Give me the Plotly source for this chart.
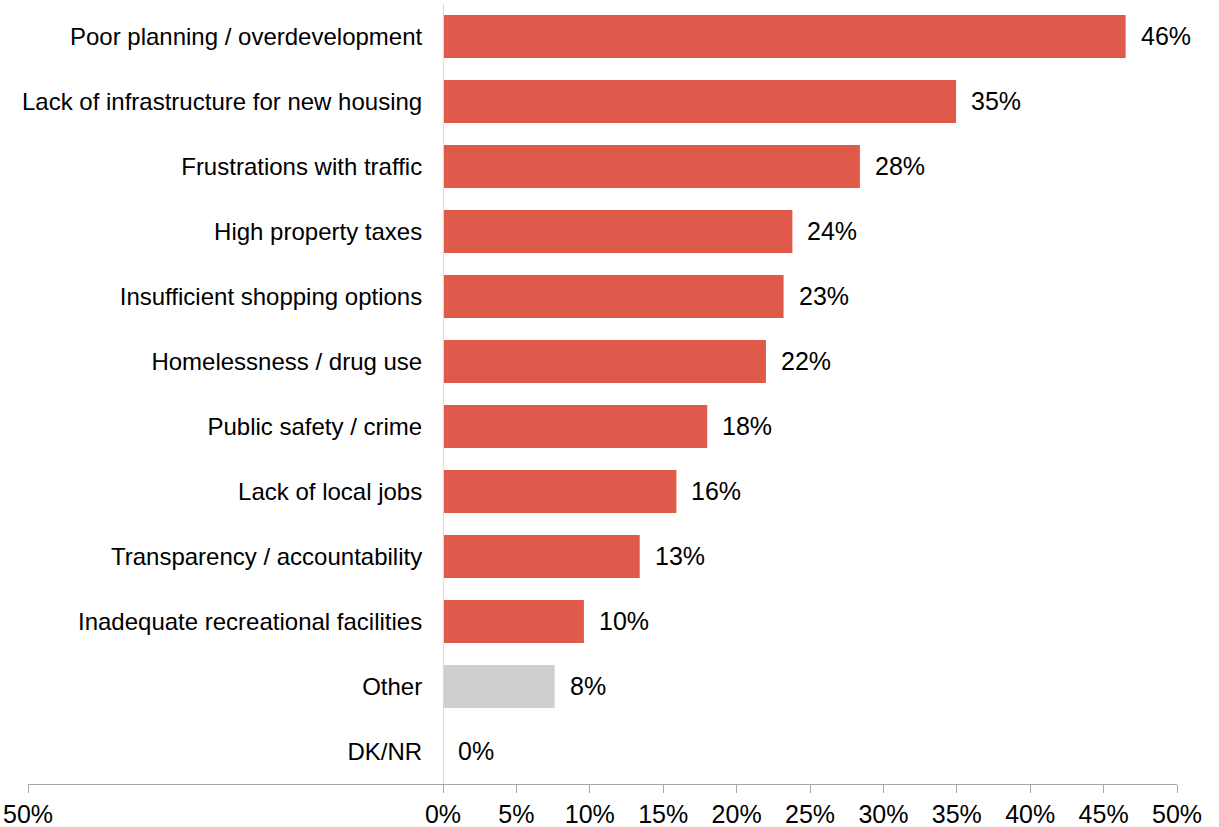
import plotly.graph_objects as go

categories = [
    "Poor planning / overdevelopment",
    "Lack of infrastructure for new housing",
    "Frustrations with traffic",
    "High property taxes",
    "Insufficient shopping options",
    "Homelessness / drug use",
    "Public safety / crime",
    "Lack of local jobs",
    "Transparency / accountability",
    "Inadequate recreational facilities",
    "Other",
    "DK/NR",
]
values = [46.5, 34.95, 28.4, 23.8, 23.2, 22.0, 18.0, 15.9, 13.4, 9.6, 7.6, 0.0]
value_labels = ["46%", "35%", "28%", "24%", "23%", "22%", "18%", "16%", "13%", "10%", "8%", "0%"]
bar_colors = ["#E05A4B"] * 10 + ["#D0CECE", "#D0CECE"]

x_min, x_max = -28.27, 50
tick_vals = [-28.27, 0, 5, 10, 15, 20, 25, 30, 35, 40, 45, 50]
tick_text = ["50%", "0%", "5%", "10%", "15%", "20%", "25%", "30%", "35%", "40%", "45%", "50%"]

FONT = "Arial, 'Liberation Sans', sans-serif"

fig = go.Figure()
fig.add_trace(go.Bar(
    x=values,
    y=categories,
    orientation="h",
    marker=dict(color=bar_colors, line=dict(width=0)),
    hoverinfo="skip",
))

for cat, v, lab in zip(categories, values, value_labels):
    fig.add_annotation(
        x=v, y=cat, text=lab, showarrow=False,
        xanchor="left", yanchor="middle", xshift=13, yshift=1,
        font=dict(family=FONT, size=25, color="#000000"),
    )

fig.update_layout(
    width=1219, height=827,
    margin=dict(l=28, r=42, t=4, b=43),
    paper_bgcolor="white", plot_bgcolor="white",
    showlegend=False,
    bargap=0.34,
    hovermode=False,
    font=dict(family=FONT, size=24, color="#000000"),
    xaxis=dict(
        range=[x_min, x_max],
        automargin=False,
        tickmode="array", tickvals=tick_vals, ticktext=tick_text,
        showgrid=False, zeroline=False,
        showline=True, linecolor="#A6A6A6", linewidth=1,
        ticks="outside", ticklen=8, tickcolor="#A6A6A6",
        tickfont=dict(family=FONT, size=25, color="#000000"),
    ),
    yaxis=dict(
        categoryorder="array", categoryarray=categories,
        autorange="reversed",
        automargin=False,
        anchor="free",
        position=(0 - x_min) / (x_max - x_min),
        showgrid=False, zeroline=False,
        showline=True, linecolor="#D9D9D9", linewidth=1,
        ticks="", ticklabelstandoff=16,
        tickfont=dict(family=FONT, size=24, color="#000000"),
    ),
)

fig.write_html(
    "out.html",
    config={"displayModeBar": False},
    post_script="document.body.style.margin='0';document.body.style.overflow='hidden';",
)
